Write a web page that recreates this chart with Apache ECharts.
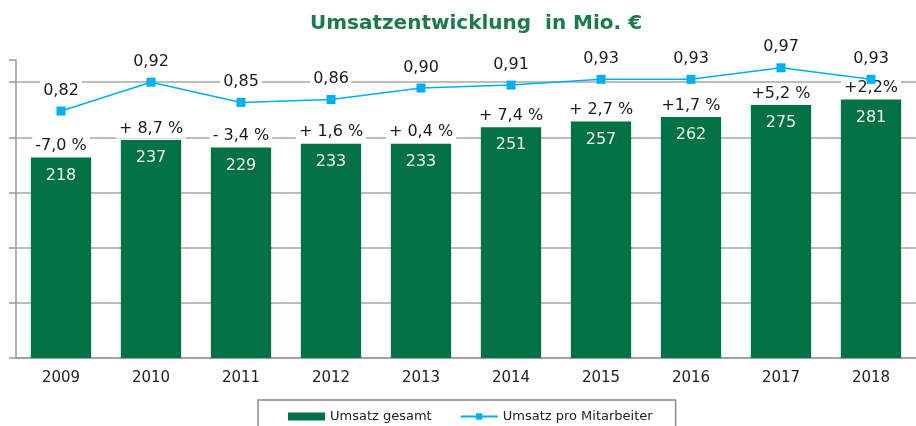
<!DOCTYPE html>
<html>
<head>
<meta charset="utf-8">
<title>Umsatzentwicklung</title>
<script src="https://cdn.jsdelivr.net/npm/echarts@6/dist/echarts.min.js"></script>
<style>
  html,body{margin:0;padding:0;background:#fff;}
  #umsatz-chart{width:916px;height:426px;}
</style>
</head>
<body>
<div id="umsatz-chart"></div>
<script>
  // Jahre / Umsatz gesamt (Mio. €) / Veränderung / Umsatz pro Mitarbeiter
  var years = ['2009', '2010', '2011', '2012', '2013', '2014', '2015', '2016', '2017', '2018'];
  var umsatzGesamt = [218, 237, 229, 233, 233, 251, 257, 262, 275, 281];
  var veraenderung = ['-7,0 %', '+ 8,7 %', '- 3,4 %', '+ 1,6 %', '+ 0,4 %', '+ 7,4 %', '+ 2,7 %', '+1,7 %', '+5,2 %', '+2,2%'];
  var umsatzProMitarbeiter = [0.82, 0.92, 0.85, 0.86, 0.90, 0.91, 0.93, 0.93, 0.97, 0.93];

  var fontName = 'DejaVu Sans';
  var umsatzChart = echarts.init(document.getElementById('umsatz-chart'));

  var umsatzOption = {
    animation: false,
    title: {
      text: 'Umsatzentwicklung  in Mio. €',
      left: 471,
      textAlign: 'center',
      top: 9,
      textStyle: {color: '#1b7b4c', fontFamily: fontName, fontWeight: 'bold', fontSize: 20}
    },
    legend: {
      data: [
        {name: 'Umsatz gesamt', icon: 'rect'},
        {name: 'Umsatz pro Mitarbeiter'}
      ],
      left: 258,
      top: 400,
      padding: [10, 23, 20, 30],
      itemWidth: 37,
      itemHeight: 8,
      itemGap: 28,
      borderColor: '#8a8a8a',
      borderWidth: 1.5,
      textStyle: {color: '#222', fontFamily: fontName, fontSize: 13}
    },
    grid: {left: 16, right: -3, top: 60, bottom: 68},
    xAxis: {
      type: 'category',
      data: years,
      axisLine: {lineStyle: {color: '#999', width: 1.5}},
      axisTick: {length: 5, lineStyle: {color: '#999', width: 1.5}},
      axisLabel: {color: '#222', fontFamily: fontName, fontSize: 15, margin: 13}
    },
    yAxis: [
      {
        type: 'value',
        min: 0,
        max: 324,
        interval: 60,
        axisLine: {show: true, lineStyle: {color: '#999', width: 1.5}},
        axisTick: {show: true, length: 7, lineStyle: {color: '#999', width: 1.5}},
        axisLabel: {show: false},
        splitLine: {show: true, showMaxLine: false, lineStyle: {color: '#a6a6a6', width: 1.5}}
      },
      {
        type: 'value',
        min: -0.036,
        max: 0.997,
        show: false,
        splitLine: {show: false}
      }
    ],
    series: [
      {
        name: 'Umsatz gesamt',
        type: 'bar',
        barCategoryGap: '33%',
        itemStyle: {color: '#017146'},
        label: {
          show: true,
          position: 'insideTop',
          distance: 10,
          color: '#f4f4e6',
          fontFamily: fontName,
          fontSize: 16
        },
        data: umsatzGesamt
      },
      {
        name: 'Veränderung',
        type: 'scatter',
        symbolSize: 1,
        itemStyle: {color: 'rgba(0,0,0,0)', opacity: 1},
        label: {
          show: true,
          position: 'top',
          distance: 1,
          color: '#1a1a1a',
          fontFamily: fontName,
          fontSize: 16,
          backgroundColor: '#fff',
          padding: [2, 3],
          formatter: function (p) { return veraenderung[p.dataIndex]; }
        },
        z: 5,
        data: umsatzGesamt
      },
      {
        name: 'Umsatz pro Mitarbeiter',
        type: 'line',
        yAxisIndex: 1,
        symbol: 'rect',
        symbolSize: 9,
        lineStyle: {color: '#00b0f0', width: 1.5},
        itemStyle: {color: '#00b0f0'},
        label: {
          show: true,
          position: 'top',
          distance: 6,
          color: '#1a1a1a',
          fontFamily: fontName,
          fontSize: 16,
          backgroundColor: '#fff',
          padding: [2, 3],
          formatter: function (p) { return p.value.toFixed(2).replace('.', ','); }
        },
        z: 6,
        data: umsatzProMitarbeiter
      }
    ]
  };

  umsatzOption && umsatzChart.setOption(umsatzOption);
</script>
</body>
</html>
